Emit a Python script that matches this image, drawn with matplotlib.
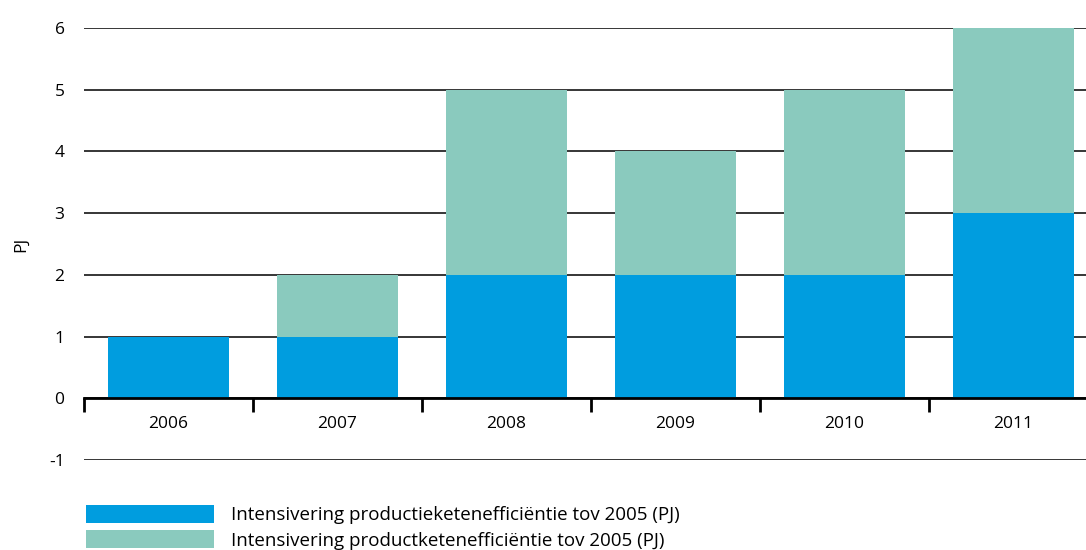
import numpy as np
import matplotlib.pyplot as plt
from matplotlib.patches import Patch
from matplotlib.ticker import FixedLocator

plt.rcParams['font.family'] = ['Open Sans', 'DejaVu Sans']
plt.rcParams['axes.unicode_minus'] = False

# data
jaren = ['2006', '2007', '2008', '2009', '2010', '2011']
ketenefficientie = [1, 1, 2, 2, 2, 3]
productketen = [0, 1, 3, 2, 3, 3]
labels = ['Intensivering productieketenefficiëntie tov 2005 (PJ)',
          'Intensivering productketenefficiëntie tov 2005 (PJ)']

blauw = '#009DDF'
groen = '#8ACABE'

fig = plt.figure(figsize=(10.86, 5.5), dpi=100)
ax = fig.add_axes([0.0773, 0.1636, 0.9227, 0.7855])

x = np.arange(len(jaren))
ax.bar(x, ketenefficientie, width=0.72, color=blauw, zorder=2)
ax.bar(x, productketen, width=0.72, bottom=ketenefficientie, color=groen, zorder=2)

ax.set_ylim(-1, 6)
ax.set_xlim(-0.5, 5.43)
ax.set_yticks(range(-1, 7))
ax.yaxis.grid(True, color='black', linewidth=1.1, zorder=0)
ax.set_axisbelow(True)

for s in ['top', 'right', 'left']:
    ax.spines[s].set_visible(False)
ax.spines['bottom'].set_position(('data', 0))
ax.spines['bottom'].set_linewidth(2)
ax.spines['bottom'].set_zorder(3)

# scheidingsstreepjes tussen de jaren, labels in het midden
ax.xaxis.set_major_locator(FixedLocator(np.arange(-0.5, 5.5, 1)))
ax.xaxis.set_minor_locator(FixedLocator(x))
ax.set_xticks(x, jaren, minor=True)
ax.tick_params(axis='x', which='major', length=10, width=2, direction='out', labelbottom=False)
ax.tick_params(axis='x', which='minor', length=0, pad=13, labelsize=12.5)
ax.tick_params(axis='y', length=0, pad=14, labelsize=12.5)

ax.set_ylabel('PJ', fontsize=12.5, labelpad=14)

handles = [Patch(facecolor=blauw), Patch(facecolor=groen)]
fig.legend(handles, labels, loc='upper left', bbox_to_anchor=(86 / 1086, 1 - 505 / 550),
           frameon=False, fontsize=13.5, handlelength=6.8, handleheight=1.12,
           handletextpad=0.95, labelspacing=0.3, borderpad=0, borderaxespad=0)

fig.savefig('out.png', dpi=100)
